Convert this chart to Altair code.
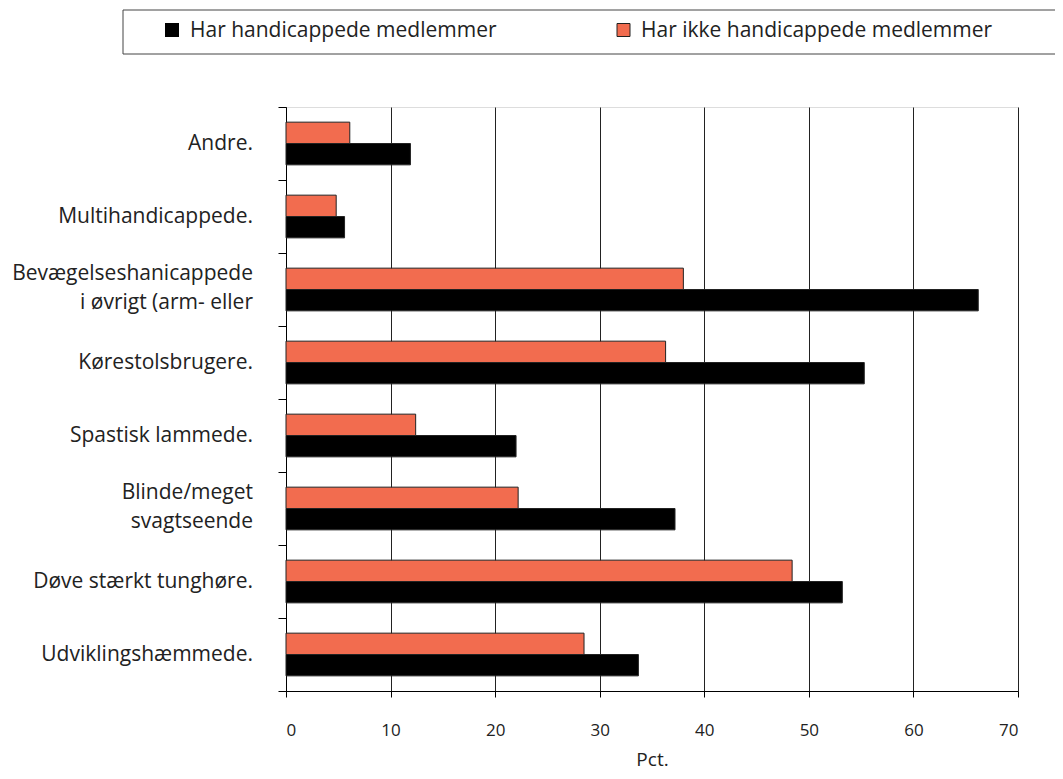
import altair as alt
import pandas as pd

categories = [
    "Andre.",
    "Multihandicappede.",
    "Bevægelseshanicappede|i øvrigt (arm- eller",
    "Kørestolsbrugere.",
    "Spastisk lammede.",
    "Blinde/meget|svagtseende",
    "Døve stærkt tunghøre.",
    "Udviklingshæmmede.",
]
series = ["Har handicappede medlemmer", "Har ikke handicappede medlemmer"]
har_values = [11.9, 5.6, 66.2, 55.3, 22.0, 37.2, 53.2, 33.7]
ikke_values = [6.1, 4.8, 38.0, 36.3, 12.4, 22.2, 48.4, 28.5]
x_ticks = [0, 10, 20, 30, 40, 50, 60, 70]
colors = ["#000000", "#F26C4F"]

rows = []
for c, h, i in zip(categories, har_values, ikke_values):
    rows.append({"cat": c, "series": series[0], "value": h})
    rows.append({"cat": c, "series": series[1], "value": i})
df = pd.DataFrame(rows)
labels_df = pd.DataFrame({"cat": categories,
                          "multi": ["|" in c for c in categories]})

FONT = "Open Sans"
W, H = 732, 584

y_enc = alt.Y(
    "cat:N", sort=categories,
    scale=alt.Scale(paddingInner=0, paddingOuter=0),
    axis=alt.Axis(
        title=None, tickBand="extent", labels=False, tickSize=8,
        tickColor="black", domainColor="black", grid=False,
    ),
)

bars = alt.Chart(df).mark_bar(stroke="#222", strokeWidth=1).encode(
    x=alt.X(
        "value:Q",
        scale=alt.Scale(domain=[0, 70], nice=False),
        axis=alt.Axis(
            values=x_ticks, title="Pct.", grid=True, gridColor="#222",
            gridOpacity=1, tickSize=6, tickColor="black", domainColor="black",
            labelPadding=25, labelFontSize=17, labelFont=FONT, labelColor="#222",
            titleFont=FONT, titleFontSize=19, titleFontWeight="normal",
            titleColor="#222", titlePadding=12,
        ),
    ),
    y=y_enc,
    yOffset=alt.YOffset(
        "series:N", sort=[series[1], series[0]],
        scale=alt.Scale(paddingInner=0, paddingOuter=0.71),
    ),
    color=alt.Color("series:N", scale=alt.Scale(domain=series, range=colors), legend=None),
)

lab_single = alt.Chart(labels_df).transform_filter("!datum.multi").mark_text(
    align="right", baseline="middle", font=FONT, fontSize=21, color="#222"
).encode(y=alt.Y("cat:N", sort=categories), x=alt.value(-33), text="cat:N")

lab_multi = alt.Chart(labels_df).transform_filter("datum.multi").mark_text(
    align="right", baseline="middle", font=FONT, fontSize=21, color="#222",
    lineBreak="|", lineHeight=29, dy=-16
).encode(y=alt.Y("cat:N", sort=categories), x=alt.value(-33), text="cat:N")

one = pd.DataFrame({"a": [0]})
box = alt.Chart(one).mark_rect(filled=False, stroke="#444", strokeWidth=1).encode(
    x=alt.value(-163), x2=alt.value(800), y=alt.value(-97), y2=alt.value(-53)
)
sq1 = alt.Chart(one).mark_square(size=196, color=colors[0], opacity=1).encode(
    x=alt.value(-114), y=alt.value(-77)
)
sq2 = alt.Chart(one).mark_square(size=169, fill=colors[1], stroke="#222", strokeWidth=1, opacity=1).encode(
    x=alt.value(337.5), y=alt.value(-77)
)
t1 = alt.Chart(one).mark_text(text=series[0], align="left", baseline="middle",
                              font=FONT, fontSize=21, color="#222").encode(
    x=alt.value(-96), y=alt.value(-76)
)
t2 = alt.Chart(one).mark_text(text=series[1], align="left", baseline="middle",
                              font=FONT, fontSize=21, color="#222").encode(
    x=alt.value(355), y=alt.value(-76)
)

chart = alt.layer(bars, lab_single, lab_multi, box, sq1, sq2, t1, t2).properties(
    width=W, height=H,
    autosize=alt.AutoSizeParams(type="none"),
    padding={"left": 278, "top": 99, "right": 37, "bottom": 80},
).configure_view(stroke="#999", strokeWidth=1).configure(background="white")

chart.save("out.html", embed_options={"renderer": "svg", "actions": False})
